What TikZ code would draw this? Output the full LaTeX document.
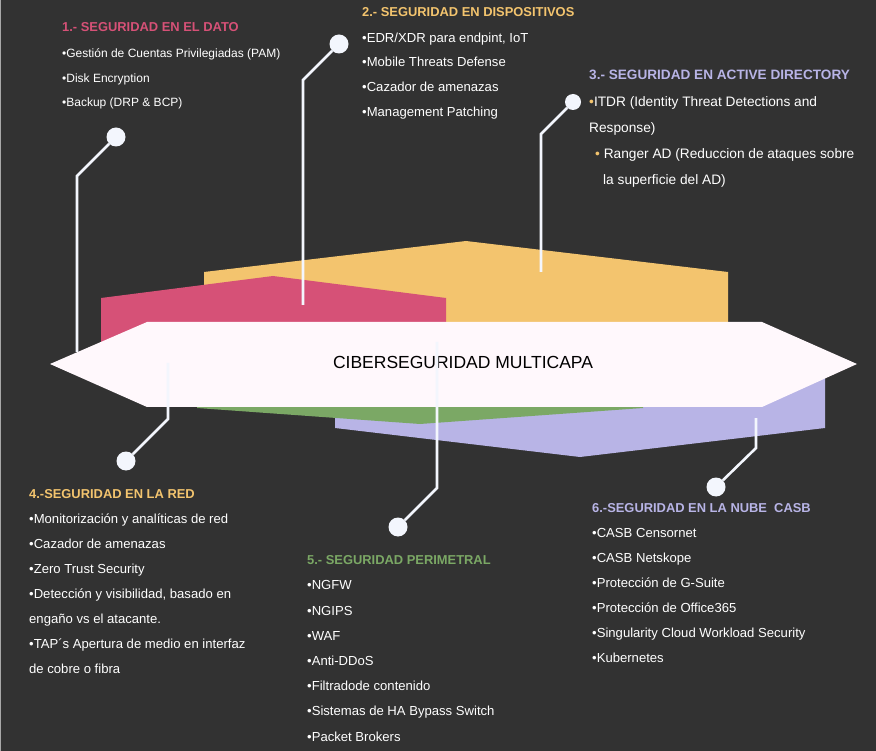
\documentclass[tikz,border=0pt]{standalone}
\usepackage{fontspec}
\setmainfont{Liberation Sans}
\definecolor{bg}{HTML}{323232}
\definecolor{cyel}{HTML}{F3C46E}
\definecolor{cpink}{HTML}{D65177}
\definecolor{cgreen}{HTML}{7BA865}
\definecolor{clav}{HTML}{B8B4E6}
\definecolor{cwhite}{HTML}{FFF8FC}
\definecolor{cline}{HTML}{F3F6FD}
\definecolor{cedge}{HTML}{A8A8A8}
\begin{document}
\begin{tikzpicture}[x=1pt,y=-1pt,
  txt/.style={anchor=base west, inner sep=0pt, text=white, yshift=-4.7pt, font=\fontsize{13.1}{15}\selectfont},
  txtsmall/.style={txt, yshift=0.4pt, font=\fontsize{12}{14}\selectfont},
  txtbig/.style={txt, yshift=-0.2pt, font=\fontsize{13.7}{16}\selectfont},
  ttl/.style={anchor=base west, inner sep=0pt, yshift=-4.7pt, font=\bfseries\fontsize{12.9}{15}\selectfont},
  ttlbig/.style={ttl, yshift=-0.2pt, font=\bfseries\fontsize{13.6}{16}\selectfont},
  conn/.style={draw=cline, line width=2.6pt},
  dot/.style={circle, fill=cline, minimum size=19pt, inner sep=0pt},
  dotsmall/.style={dot, minimum size=16pt},
  layer/.style={draw=none}]
\useasboundingbox (0,0) rectangle (876,751);
\fill[bg] (0,0) rectangle (876,751);
\draw[cedge, line width=1pt] (0.5,0) -- (0.5,751);

% layered shapes
\fill[cyel] (204,272) -- (466,241) -- (728,272) -- (728,380) -- (204,380) -- cycle;
\fill[cpink] (101,298) -- (273,276) -- (446,298) -- (446,370) -- (101,370) -- cycle;
\fill[clav] (335,365) -- (825,365) -- (825,428) -- (580,457) -- (335,428) -- cycle;
\fill[cgreen] (197,360) -- (643,360) -- (643,408) -- (420,424) -- (197,408) -- cycle;
\fill[cwhite] (50,364) -- (147,322) -- (762,322) -- (857,364) -- (762,407) -- (147,407) -- cycle;
\node[inner sep=0pt, font=\fontsize{17.5}{20}\selectfont] (main) at (463,362) {CIBERSEGURIDAD MULTICAPA};

% connector points
\coordinate (e1) at (77,352);  \coordinate (k1) at (77,176);
\coordinate (e2) at (303,305); \coordinate (k2) at (303,80);
\coordinate (e3) at (541,272); \coordinate (k3) at (541,134);
\coordinate (e4) at (168,363); \coordinate (k4) at (168,419);
\coordinate (e5) at (437,342); \coordinate (k5) at (437,488);
\coordinate (e6) at (756,418); \coordinate (k6) at (756,448);
\node[dot] (c1) at (116,137) {};
\node[dot] (c2) at (339,44) {};
\node[dotsmall] (c3) at (573,102) {};
\node[dot] (c4) at (126,461) {};
\node[dot] (c5) at (398,527) {};
\node[dot] (c6) at (716,487) {};
\draw[conn] (e1) -- (k1) -- (c1);
\draw[conn] (e2) -- (k2) -- (c2);
\draw[conn] (e3) -- (k3) -- (c3);
\draw[conn] (e4) -- (k4) -- (c4);
\draw[conn] (e5) -- (k5) -- (c5);
\draw[conn] (e6) -- (k6) -- (c6);

% section 1
\node[ttl, text=cpink] (t1) at (62,27) {1.- SEGURIDAD EN EL DATO};
\node[txtsmall] (t1a) at (62,53) {•Gestión de Cuentas Privilegiadas (PAM)};
\node[txtsmall] (t1b) at (62,78) {•Disk Encryption};
\node[txtsmall] (t1c) at (62,102) {•Backup (DRP \& BCP)};

% section 2
\node[ttl, text=cyel] (t2) at (362,12) {2.- SEGURIDAD EN DISPOSITIVOS};
\node[txt] (t2a) at (362,38) {•EDR/XDR para endpint, IoT};
\node[txt] (t2b) at (362,62) {•Mobile Threats Defense};
\node[txt] (t2c) at (362,87) {•Cazador de amenazas};
\node[txt] (t2d) at (362,112) {•Management Patching};

% section 3
\node[ttlbig, text=clav] (t3) at (589,75) {3.- SEGURIDAD EN ACTIVE DIRECTORY};
\node[txtbig] (t3a) at (589,101.5) {\textcolor{cyel}{•}ITDR (Identity Threat Detections and};
\node[txtbig] (t3b) at (589,128) {Response)};
\node[txtbig] (t3c) at (595,154) {\textcolor{cyel}{•} Ranger AD (Reduccion de ataques sobre};
\node[txtbig] (t3d) at (603,180) {la superficie del AD)};

% section 4
\node[ttl, text=cyel] (t4) at (29,494) {4.-SEGURIDAD EN LA RED};
\node[txt] (t4a) at (29,519) {•Monitorización y analíticas de red};
\node[txt] (t4b) at (29,544) {•Cazador de amenazas};
\node[txt] (t4c) at (29,569) {•Zero Trust Security};
\node[txt] (t4d) at (29,594) {•Detección y visibilidad, basado en};
\node[txt] (t4e) at (29,618.5) {engaño vs el atacante.};
\node[txt] (t4f) at (29,644) {•TAP´s Apertura de medio en interfaz};
\node[txt] (t4g) at (29,669) {de cobre o fibra};

% section 5
\node[ttl, text=cgreen] (t5) at (307,560) {5.- SEGURIDAD PERIMETRAL};
\node[txt] (t5a) at (307,585) {•NGFW};
\node[txt] (t5b) at (307,611) {•NGIPS};
\node[txt] (t5c) at (307,636) {•WAF};
\node[txt] (t5d) at (307,661) {•Anti-DDoS};
\node[txt] (t5e) at (307,686) {•Filtradode contenido};
\node[txt] (t5f) at (307,711) {•Sistemas de HA Bypass Switch};
\node[txt] (t5g) at (307,737) {•Packet Brokers};

% section 6
\node[ttl, text=clav] (t6) at (592,508) {6.-SEGURIDAD EN LA NUBE\ \ CASB};
\node[txt] (t6a) at (592,533) {•CASB Censornet};
\node[txt] (t6b) at (592,558) {•CASB Netskope};
\node[txt] (t6c) at (592,583) {•Protección de G-Suite};
\node[txt] (t6d) at (592,608) {•Protección de Office365};
\node[txt] (t6e) at (592,633) {•Singularity Cloud Workload Security};
\node[txt] (t6f) at (592,658) {•Kubernetes};
\end{tikzpicture}
\end{document}
